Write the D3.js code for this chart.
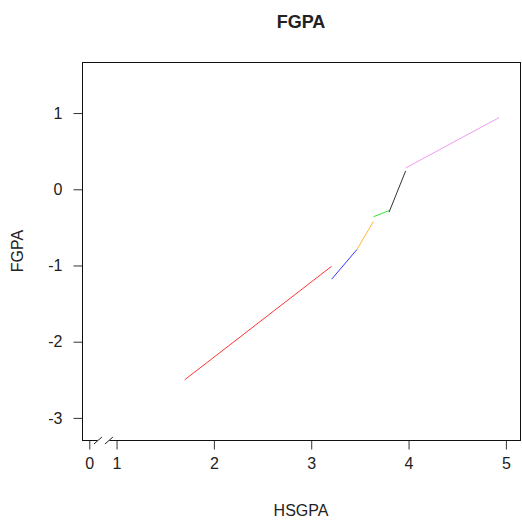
<!DOCTYPE html>
<html>
<head>
<meta charset="utf-8">
<script src="https://cdn.jsdelivr.net/npm/d3@7"></script>
<style>
  body { margin: 0; background: #fff; }
  text { font-family: "Liberation Sans", Arial, sans-serif; fill: #222; }
</style>
</head>
<body>
<div id="chart"></div>
<script>
// piecewise fit segments, HSGPA start/end and FGPA start/end
var segX0 = [1.70, 3.21, 3.47, 3.64, 3.80, 3.97];
var segX1 = [3.21, 3.47, 3.64, 3.80, 3.97, 4.93];
var segY0 = [-2.50, -1.18, -0.79, -0.36, -0.30, 0.28];
var segY1 = [-1.01, -0.79, -0.42, -0.28, 0.24, 0.94];
var segCol = ["red", "blue", "orange", "#00dd00", "black", "violet"];

var xTicks = [0.72, 1, 2, 3, 4, 5];   // 0 drawn left of the axis break
var xTickLabels = ["0", "1", "2", "3", "4", "5"];
var yTicks = [-3, -2, -1, 0, 1];

var W = 522, H = 521;
var box = {left: 82, right: 520, top: 62, bottom: 440};

var svg = d3.select("#chart").append("svg")
  .attr("width", W)
  .attr("height", H);

var x = d3.scaleLinear()
  .domain([0.645, 5.145])
  .range([box.left, box.right]);

var y = d3.scaleLinear()
  .domain([-3.29, 1.67])
  .range([box.bottom, box.top]);

// segments
for (var i = 0; i < segX0.length; i++) {
  svg.append("line")
    .attr("x1", x(segX0[i]))
    .attr("y1", y(segY0[i]))
    .attr("x2", x(segX1[i]))
    .attr("y2", y(segY1[i]))
    .attr("stroke", segCol[i])
    .attr("stroke-opacity", 0.8)
    .attr("stroke-width", 1);
}

// axes
var xAxis = d3.axisBottom(x)
  .tickValues(xTicks)
  .tickFormat(function(d, i) { return xTickLabels[i]; })
  .tickSize(9)
  .tickPadding(8);

var gx = svg.append("g")
  .attr("transform", "translate(0," + (box.bottom + 0.5) + ")")
  .call(xAxis);
gx.select(".domain").remove();

var yAxis = d3.axisLeft(y)
  .tickValues(yTicks)
  .tickFormat(function(d) { return String(d); })
  .tickSize(9)
  .tickPadding(11);

var gy = svg.append("g")
  .attr("transform", "translate(" + (box.left + 0.5) + ",0)")
  .call(yAxis);
gy.select(".domain").remove();

svg.selectAll(".tick line")
  .attr("stroke", "#333");
svg.selectAll(".tick text")
  .style("font-size", "16px")
  .style("font-family", "Liberation Sans, Arial, sans-serif")
  .attr("fill", "#222");

// plot box
svg.append("rect")
  .attr("x", box.left + 0.5)
  .attr("y", box.top + 0.5)
  .attr("width", box.right - box.left)
  .attr("height", box.bottom - box.top)
  .attr("fill", "none")
  .attr("stroke", "#111")
  .attr("stroke-width", 1);

// axis break on the x axis between 0 and 1
var bx = (x(xTicks[0]) + x(xTicks[1])) / 2 + 0.5;
svg.append("rect")
  .attr("x", bx - 6)
  .attr("y", box.bottom - 2)
  .attr("width", 12)
  .attr("height", 4)
  .attr("fill", "#fff");

[-5.5, 5.5].forEach(function(off) {
  svg.append("line")
    .attr("x1", bx + off - 4)
    .attr("y1", box.bottom + 4)
    .attr("x2", bx + off + 4)
    .attr("y2", box.bottom - 3)
    .attr("stroke", "#222")
    .attr("stroke-width", 1);
});

// titles
svg.append("text")
  .attr("x", (box.left + box.right) / 2)
  .attr("y", 28)
  .attr("text-anchor", "middle")
  .style("font-size", "18px")
  .style("font-weight", "bold")
  .attr("fill", "#000")
  .text("FGPA");

svg.append("text")
  .attr("x", (box.left + box.right) / 2)
  .attr("y", 516)
  .attr("text-anchor", "middle")
  .style("font-size", "16px")
  .text("HSGPA");

svg.append("text")
  .attr("transform", "translate(23," + ((box.top + box.bottom) / 2) + ") rotate(-90)")
  .attr("text-anchor", "middle")
  .style("font-size", "16px")
  .text("FGPA");
</script>
</body>
</html>
